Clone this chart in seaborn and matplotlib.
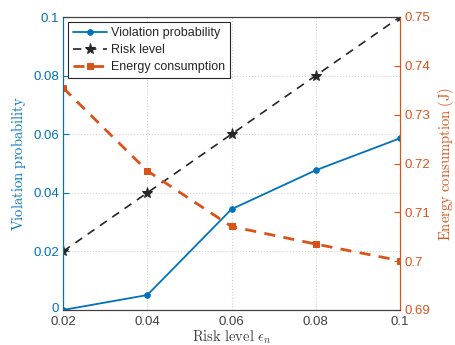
import matplotlib
matplotlib.use("Agg")
import matplotlib.pyplot as plt
import matplotlib.transforms as mtransforms
import seaborn as sns
import numpy as np

risk = [0.02, 0.04, 0.06, 0.08, 0.1]
violation = [0.0, 0.0051, 0.0344, 0.0477, 0.0586]
risk_level = [0.02, 0.04, 0.06, 0.08, 0.1]
energy = [0.7355, 0.7185, 0.7071, 0.7035, 0.7001]
xticks = [0.02, 0.04, 0.06, 0.08, 0.1]
xticklabels = ["0.02", "0.04", "0.06", "0.08", "0.1"]
lticks = [0, 0.02, 0.04, 0.06, 0.08, 0.1]
lticklabels = ["0", "0.02", "0.04", "0.06", "0.08", "0.1"]
rticks = [0.69, 0.70, 0.71, 0.72, 0.73, 0.74, 0.75]
rticklabels = ["0.69", "0.7", "0.71", "0.72", "0.73", "0.74", "0.75"]

sns.set_style("white")
plt.rcParams['font.family'] = ['Liberation Sans', 'DejaVu Sans']
plt.rcParams['mathtext.fontset'] = 'cm'

BLUE = "#0072BD"
ORANGE = "#D95319"
BLACK = "#262626"
GRAY = "#404040"

fig = plt.figure(figsize=(4.55, 3.45), dpi=100)
ax = fig.add_axes([63/455, 1 - 310/345, (400-63)/455, (310-17)/345])
ax2 = ax.twinx()

sns.lineplot(x=risk, y=violation, ax=ax, color=BLUE, lw=1.3, marker='o', ms=4,
             markeredgecolor=BLUE, label='Violation probability', legend=False)
sns.lineplot(x=risk, y=risk_level, ax=ax, color=BLACK, lw=1.2, marker='*', ms=8,
             markeredgecolor=BLACK, label='Risk level', legend=False)
ax.lines[-1].set_dashes([5, 4])
sns.lineplot(x=risk, y=energy, ax=ax2, color=ORANGE, lw=2, marker='s', ms=5,
             markeredgecolor=ORANGE, label='Energy consumption', legend=False)
ax2.lines[-1].set_dashes([4, 3])

ax.set_xlim(0.02, 0.1)
ax.set_ylim(0, 0.1)
ax2.set_ylim(0.69, 0.75)
ax.set_xticks(xticks)
ax.set_xticklabels(xticklabels)
ax.set_yticks(lticks)
ax.set_yticklabels(lticklabels)
ax2.set_yticks(rticks)
ax2.set_yticklabels(rticklabels)

ax.grid(True, linestyle=':', color='#d0d0d0', lw=0.8)
ax.set_axisbelow(True)

ax.tick_params(axis='x', direction='in', colors=GRAY, labelsize=9.5, length=4, top=False, pad=4)
ax.tick_params(axis='y', direction='in', colors=BLUE, labelsize=9.5, length=4, pad=3)
ax2.tick_params(axis='y', direction='in', colors=ORANGE, labelsize=9.5, length=4, pad=3)

# nudge the bottom-left "0" up a touch so it doesn't collide with "0.02"
lab0 = ax.get_yticklabels()[0]
lab0.set_transform(lab0.get_transform() + mtransforms.ScaledTranslation(0, 2/72, fig.dpi_scale_trans))

for a in (ax, ax2):
    a.spines['top'].set_color(GRAY)
    a.spines['bottom'].set_color(GRAY)
    a.spines['left'].set_color(BLUE)
    a.spines['right'].set_color(ORANGE)
    for s in a.spines.values():
        s.set_linewidth(0.8)
        s.set_visible(True)

ax.set_xlabel(r'$\mathrm{Risk\ level}\ \epsilon_n$', fontsize=10.5, color=GRAY, labelpad=1)
ax.set_ylabel(r'$\mathrm{Violation\ probability}$', fontsize=10.5, color=BLUE, labelpad=4)
ax2.set_ylabel(r'$\mathrm{Energy\ consumption\ (J)}$', fontsize=10.5, color=ORANGE, labelpad=4)

h1, l1 = ax.get_legend_handles_labels()
h2, l2 = ax2.get_legend_handles_labels()
leg = ax2.legend(h1 + h2, l1 + l2, loc='upper left', bbox_to_anchor=(0.005, 0.995),
                 fontsize=9, frameon=True, fancybox=False, edgecolor=BLACK,
                 framealpha=1, borderpad=0.4, labelspacing=0.4, handlelength=2.7,
                 handletextpad=0.3, borderaxespad=0.3)
leg.get_frame().set_linewidth(0.8)

fig.savefig("out.png", dpi=100)
